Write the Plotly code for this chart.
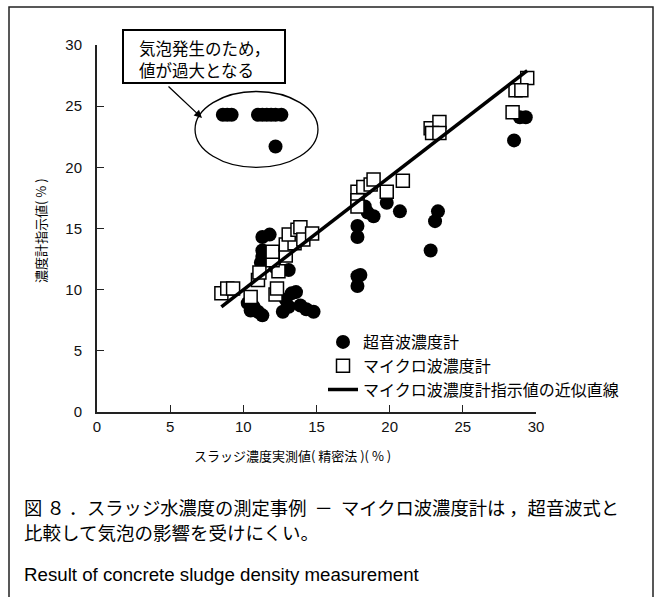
import plotly.graph_objects as go

# Ultrasonic densitometer readings (filled circles)
us_x = [8.6, 8.9, 9.2, 11.0, 11.3, 11.6, 11.9, 12.2, 12.6, 12.2,
        10.5, 10.7, 11.0, 11.3, 10.3, 11.3, 11.8, 11.3, 11.3, 11.2,
        12.2, 13.1, 12.7, 13.1, 13.3, 13.6, 13.9, 14.3, 14.8, 12.9,
        17.8, 17.8, 18.5, 18.9, 19.8, 20.7, 17.8, 18.0, 17.8, 18.3,
        23.3, 23.1, 22.8, 28.9, 29.3, 28.5]
us_y = [24.3, 24.3, 24.3, 24.3, 24.3, 24.3, 24.3, 24.3, 24.3, 21.7,
        8.3, 8.6, 8.2, 7.9, 8.9, 14.3, 14.5, 13.2, 12.7, 12.2,
        11.8, 11.6, 8.2, 8.6, 9.7, 9.8, 8.7, 8.4, 8.2, 9.2,
        15.2, 14.3, 16.3, 16.0, 17.1, 16.4, 11.1, 11.2, 10.3, 16.8,
        16.4, 15.6, 13.2, 24.1, 24.1, 22.2]

# Microwave densitometer readings (open squares)
mw_x = [8.5, 8.9, 9.3, 10.5, 11.0, 11.1, 12.2, 12.3, 12.4, 12.0,
        12.0, 12.9, 12.9, 13.5, 13.1, 13.7, 13.9, 14.1, 14.7,
        17.8, 17.8, 17.8, 18.2, 18.7, 18.9, 19.8, 20.9,
        22.8, 23.4, 22.9, 23.4,
        29.4, 28.6, 29.0, 28.4]
mw_y = [9.7, 10.1, 10.1, 9.4, 10.8, 11.4, 9.6, 10.1, 11.5, 12.4,
        13.1, 12.8, 13.7, 13.8, 14.5, 14.9, 15.1, 14.1, 14.6,
        18.0, 17.3, 16.8, 18.4, 18.6, 19.0, 18.0, 18.9,
        23.2, 23.7, 22.8, 22.8,
        27.3, 26.3, 26.3, 24.5]

# Approximate straight line through the microwave readings
fit_x = [8.5, 29.4]
fit_y = [8.6, 27.9]

x_ticks = [0, 5, 10, 15, 20, 25, 30]
y_ticks = [0, 5, 10, 15, 20, 25, 30]

FONT = "Liberation Sans, Arial, Noto Sans CJK JP, sans-serif"
JP = "Noto Sans CJK JP, Liberation Sans, sans-serif"

W, H = 661, 597
L, R, T, B = 97, 536, 45, 412   # plot area in pixels


def px(xp):
    return (xp - L) / (R - L)


def py(yp):
    return (B - yp) / (B - T)


fig = go.Figure()
fig.add_trace(go.Scatter(
    x=us_x, y=us_y, mode="markers", name="超音波濃度計",
    marker=dict(symbol="circle", size=14, color="black",
                line=dict(width=0)),
))
fig.add_trace(go.Scatter(
    x=mw_x, y=mw_y, mode="markers", name="マイクロ波濃度計",
    marker=dict(symbol="square", size=13, color="white",
                line=dict(width=1.5, color="black")),
))
fig.add_trace(go.Scatter(
    x=fit_x, y=fit_y, mode="lines", name="マイクロ波濃度計指示値の近似直線",
    line=dict(color="black", width=3.5),
))

shapes = []
# outer frame (open at the bottom)
shapes.append(dict(
    type="path", xref="paper", yref="paper",
    path=f"M {px(9)},{py(600)} L {px(9)},{py(7)} L {px(653)},{py(7)} L {px(653)},{py(600)}",
    line=dict(color="#222", width=1.5),
))
# callout box
shapes.append(dict(
    type="rect", xref="paper", yref="paper",
    x0=px(123), x1=px(285), y0=py(83), y1=py(30),
    line=dict(color="black", width=2), fillcolor="white",
))
# ellipse around the bubble-affected readings
shapes.append(dict(
    type="circle", xref="x", yref="y",
    x0=6.7, x1=15.1, y0=20.0, y1=26.2,
    line=dict(color="black", width=1.3),
))


def note(xp, yp, text, size, family=JP, **kw):
    d = dict(xref="paper", yref="paper", x=px(xp), y=py(yp),
             xanchor="left", yanchor="middle", text=text, showarrow=False,
             font=dict(family=family, size=size, color="black"))
    d.update(kw)
    return d


annotations = [
    note(137, 47.5, "気泡発生のため，", 16.5),
    note(137, 70, "値が過大となる", 16.5),
    # arrow from callout to ellipse
    dict(xref="x", yref="y", axref="x", ayref="y",
         x=(202 - L) / 14.633, y=(B - 118) / 12.233,
         ax=(167 - L) / 14.633, ay=(B - 85) / 12.233,
         text="", showarrow=True, arrowhead=2, arrowsize=1.2,
         arrowwidth=1.3, arrowcolor="black"),
    # axis titles
    note(40, 230, "濃度計指示値( % )", 13, xanchor="center", textangle=-90),
    note(292, 455, "スラッジ濃度実測値( 精密法 )( % )", 13, xanchor="center"),
    # caption
    note(22, 507, "図 ８ ．スラッジ水濃度の測定事例 &nbsp;－&nbsp; マイクロ波濃度計は ，超音波式と", 18.3),
    note(22, 532, "比較して気泡の影響を受けにくい。", 18.5),
    note(22, 574, "Result of concrete sludge density measurement", 18.7, family=FONT),
]

axis_common = dict(
    range=[0, 30], showgrid=False, zeroline=False,
    showline=True, linecolor="#222", linewidth=2,
    ticks="inside", ticklen=7, tickwidth=1, tickcolor="#222",
    tickfont=dict(family=FONT, size=15, color="#111"),
    mirror=False, fixedrange=True,
)

fig.update_layout(
    width=W, height=H,
    margin=dict(l=L, r=W - R, t=T, b=H - B),
    paper_bgcolor="white", plot_bgcolor="white",
    xaxis=dict(axis_common, tickvals=x_ticks, ticktext=[str(v) for v in x_ticks]),
    yaxis=dict(axis_common, tickvals=y_ticks, ticktext=[str(v) for v in y_ticks],
               ticklabelstandoff=10),
    showlegend=True,
    legend=dict(x=px(323), y=py(325), xanchor="left", yanchor="top",
                bgcolor="rgba(0,0,0,0)", borderwidth=0,
                font=dict(family=JP, size=16, color="black"),
                tracegroupgap=0),
    shapes=shapes,
    annotations=annotations,
)

fig.write_html("out.html")
